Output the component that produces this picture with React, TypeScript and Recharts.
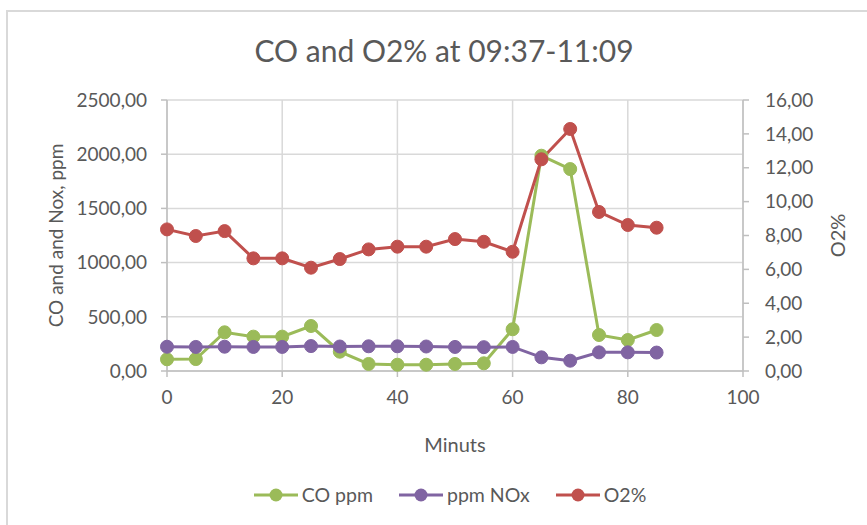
import { LineChart, Line, XAxis, YAxis, CartesianGrid, Legend } from 'recharts';

const minutes = [0, 5, 10, 15, 20, 25, 30, 35, 40, 45, 50, 55, 60, 65, 70, 75, 80, 85];
const coPpm = [108, 110, 357, 317, 317, 415, 178, 65, 58, 58, 65, 71, 385, 1986, 1863, 332, 286, 378];
const noxPpm = [224, 222, 224, 222, 222, 230, 226, 228, 228, 226, 222, 220, 222, 126, 95, 172, 172, 170];
const o2Pct = [8.36, 7.97, 8.26, 6.65, 6.65, 6.1, 6.61, 7.18, 7.34, 7.34, 7.79, 7.63, 7.04, 12.5, 14.29, 9.39, 8.62, 8.46];

const seriesNames = ['CO ppm', 'ppm NOx', 'O2%'];

const xTicks = [0, 20, 40, 60, 80, 100];
const ppmTicks = [0, 500, 1000, 1500, 2000, 2500];
const o2Ticks = [0, 2, 4, 6, 8, 10, 12, 14, 16];

const chartData = minutes.map((m, i) => ({
  min: m,
  co: coPpm[i],
  nox: noxPpm[i],
  o2: o2Pct[i],
}));

const FONT = 'Lato, "Open Sans", sans-serif';
const TEXT = '#595959';
const AXIS = '#bfbfbf';
const GRID = '#d9d9d9';

const GREEN = '#9bbb59';
const PURPLE = '#8064a2';
const RED = '#c0504d';

// excel-style decimal comma
const fmt2 = (v: number) => v.toFixed(2).replace('.', ',');

const LegendRow = ({ payload }: any) => {
  // keep series order instead of the default alphabetical one
  const items = [...(payload || [])].sort(
    (a: any, b: any) => seriesNames.indexOf(a.value) - seriesNames.indexOf(b.value)
  );
  return (
    <div
      style={{
        display: 'flex',
        justifyContent: 'center',
        alignItems: 'center',
        gap: 26,
        paddingLeft: 30,
        fontFamily: FONT,
        fontSize: 19.5,
        color: TEXT,
      }}
    >
      {items.map((entry: any) => (
        <div key={entry.value} style={{ display: 'flex', alignItems: 'center' }}>
          <svg width={44} height={16} style={{ marginRight: 4 }}>
            <line x1={0} y1={8} x2={44} y2={8} stroke={entry.color} strokeWidth={3} />
            <circle cx={22} cy={8} r={6.5} fill={entry.color} />
          </svg>
          <span>{entry.value}</span>
        </div>
      ))}
    </div>
  );
};

export default function App() {
  return (
    <div style={{ position: 'absolute', left: 0, top: 0, width: 867, height: 525, background: '#fff', overflow: 'hidden' }}>
      <div
        style={{
          position: 'absolute',
          left: 6,
          top: 10,
          width: 880,
          height: 540,
          border: '2px solid #d9d9d9',
          boxSizing: 'border-box',
        }}
      />
      <div
        style={{
          position: 'absolute',
          left: 0,
          top: 31,
          width: 888,
          textAlign: 'center',
          fontFamily: FONT,
          fontSize: 30,
          color: TEXT,
          lineHeight: '38px',
        }}
      >
        CO and O2% at 09:37-11:09
      </div>
      <div style={{ position: 'absolute', left: 0, top: 0 }}>
        <LineChart width={867} height={525} data={chartData} margin={{ top: 100, right: 14, bottom: 12, left: 17 }}>
          <CartesianGrid yAxisId="ppm" stroke={GRID} strokeWidth={1.5} />
          <XAxis
            dataKey="min"
            type="number"
            domain={[0, 100]}
            ticks={xTicks}
            height={112}
            tickSize={6}
            tickMargin={14}
            stroke={AXIS}
            strokeWidth={1.5}
            tick={{ fill: TEXT, fontSize: 19, fontFamily: FONT }}
            label={{ value: 'Minuts', position: 'insideBottom', offset: 31, fill: TEXT, fontSize: 20, fontFamily: FONT }}
          />
          <YAxis
            yAxisId="ppm"
            domain={[0, 2500]}
            ticks={ppmTicks}
            width={150}
            tickSize={6}
            tickMargin={14}
            stroke={AXIS}
            strokeWidth={1.5}
            tickFormatter={fmt2}
            tick={{ fill: TEXT, fontSize: 19, fontFamily: FONT }}
            label={{
              value: 'CO and and Nox, ppm',
              angle: -90,
              position: 'insideLeft',
              offset: 39,
              fill: TEXT,
              fontSize: 19,
              fontFamily: FONT,
              style: { textAnchor: 'middle' },
            }}
          />
          <YAxis
            yAxisId="o2"
            orientation="right"
            domain={[0, 16]}
            ticks={o2Ticks}
            width={110}
            tickSize={6}
            tickMargin={16}
            stroke={AXIS}
            strokeWidth={1.5}
            tickFormatter={fmt2}
            tick={{ fill: TEXT, fontSize: 19, fontFamily: FONT }}
            label={{
              value: 'O2%',
              angle: -90,
              position: 'insideRight',
              offset: 15,
              fill: TEXT,
              fontSize: 20,
              fontFamily: FONT,
              style: { textAnchor: 'middle' },
            }}
          />
          <Legend verticalAlign="bottom" wrapperStyle={{ height: 30 }} content={<LegendRow />} />
          <Line
            yAxisId="ppm"
            dataKey="co"
            name="CO ppm"
            stroke={GREEN}
            strokeWidth={3}
            dot={{ r: 6.5, fill: GREEN, stroke: GREEN, strokeWidth: 1 }}
            isAnimationActive={false}
          />
          <Line
            yAxisId="ppm"
            dataKey="nox"
            name="ppm NOx"
            stroke={PURPLE}
            strokeWidth={3}
            dot={{ r: 6.5, fill: PURPLE, stroke: PURPLE, strokeWidth: 1 }}
            isAnimationActive={false}
          />
          <Line
            yAxisId="o2"
            dataKey="o2"
            name="O2%"
            stroke={RED}
            strokeWidth={3}
            dot={{ r: 6.5, fill: RED, stroke: RED, strokeWidth: 1 }}
            isAnimationActive={false}
          />
        </LineChart>
      </div>
    </div>
  );
}
